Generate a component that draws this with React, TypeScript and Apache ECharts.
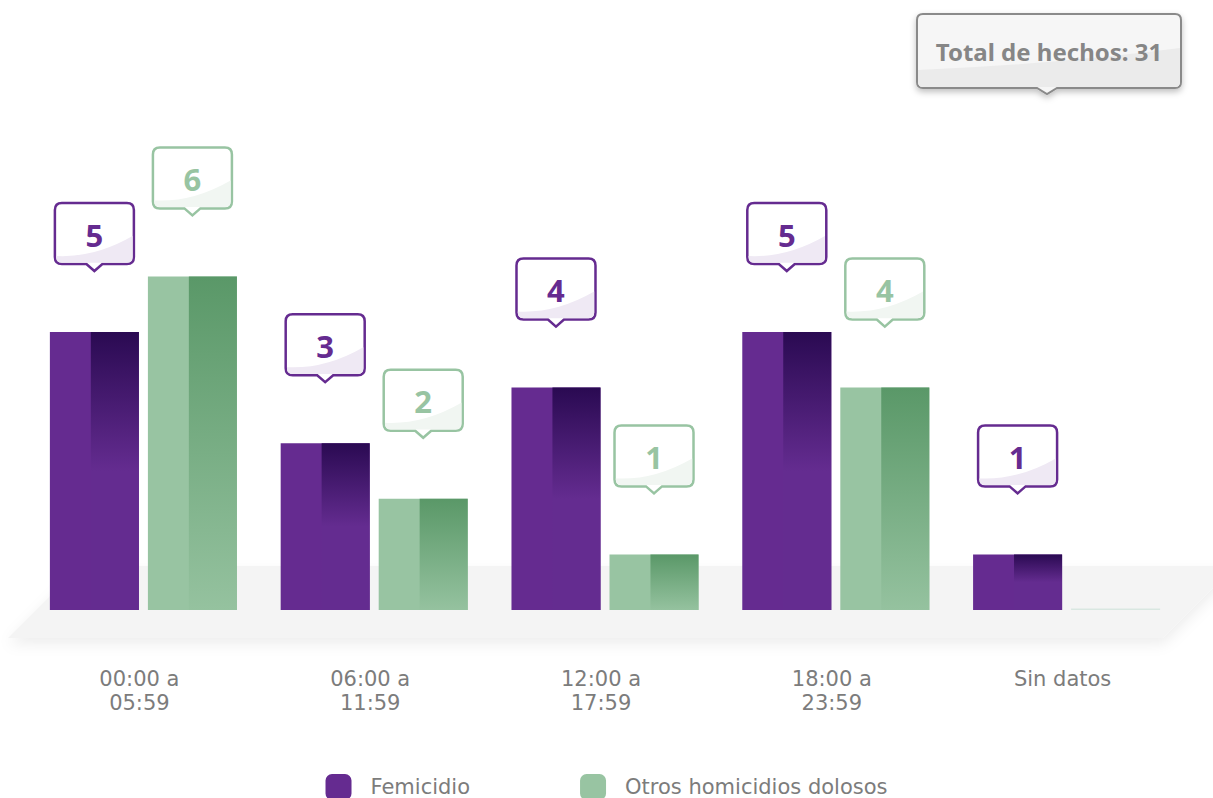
import React, { useEffect, useRef } from "react";
import * as echarts from "echarts";

const categories = ["00:00 a\n05:59", "06:00 a\n11:59", "12:00 a\n17:59", "18:00 a\n23:59", "Sin datos"];
const femicidio = [5, 3, 4, 5, 1];
const otros = [6, 2, 1, 4, 0];
const seriesNames = ["Femicidio", "Otros homicidios dolosos"];

const PURPLE = { base: "#652b90", dark: "#2a0a52", mid: "#642c90", tint: "#efe9f4", stroke: "#652b90", text: "#652b90", zero: "#e0d6ea" };
const GREEN = { base: "#98c4a2", dark: "#5a9868", mid: "#95c29f", tint: "#f1f6f2", stroke: "#98c4a2", text: "#98c4a2", zero: "#d9e7e1" };

const FONT = '"Noto Sans", "Open Sans", sans-serif';
const LIGHT = '"DejaVu Sans", "Noto Sans", sans-serif';

const totalPath =
  "M6,0 H258 Q264,0 264,6 V68 Q264,74 258,74 H140 L130,80 L120,74 H6 Q0,74 0,68 V6 Q0,0 6,0 Z";
const totalGloss =
  "M1,56 Q140,50 263,34 V68 Q263,73 258,73 H6 Q1,73 1,68 Z";
echarts.graphic.registerShape("totalBox", echarts.graphic.extendPath(totalPath, {}));
echarts.graphic.registerShape("totalGloss", echarts.graphic.extendPath(totalGloss, {}));

function makeRender(side: number, pal: any) {
  return (params: any, api: any) => {
    const cat = api.value(0);
    const val = api.value(1);
    const [cx, yTop] = api.coord([cat, val]);
    const [, yBase] = api.coord([cat, 0]);
    const band = api.size([1, 0])[0];
    const bw = band * 0.3857;
    const gap = band * 0.039;
    const groupLeft = cx - (2 * bw + gap) / 2;
    const left = side === 0 ? groupLeft : groupLeft + bw + gap;
    const children: any[] = [];
    if (val <= 0) {
      children.push({ type: "rect", shape: { x: left, y: yBase - 1.5, width: bw, height: 1.5 }, style: { fill: pal.zero } });
      return { type: "group", children };
    }
    const h = yBase - yTop;
    const split = bw * 0.46;
    children.push({ type: "rect", shape: { x: left, y: yTop, width: bw, height: h }, style: { fill: pal.base } });
    children.push({
      type: "rect",
      shape: { x: left + split, y: yTop, width: bw - split, height: h },
      style: {
        fill: new echarts.graphic.LinearGradient(0, 0, 0, 1,
          side === 0
            ? [{ offset: 0, color: pal.dark }, { offset: 0.5, color: pal.mid }, { offset: 1, color: pal.mid }]
            : [{ offset: 0, color: pal.dark }, { offset: 1, color: pal.mid }]),
      },
    });
    // callout
    const W = 79, H = 61, r = 7, pw = 8, pd = 7;
    const bc = left + bw / 2;
    const tipY = yTop - 61;
    const bottom = tipY - pd;
    const top = bottom - H;
    const l = bc - W / 2;
    const R = l + W;
    const d = `M${l + r},${top} L${R - r},${top} Q${R},${top} ${R},${top + r} L${R},${bottom - r} Q${R},${bottom} ${R - r},${bottom} L${bc + pw},${bottom} L${bc},${tipY} L${bc - pw},${bottom} L${l + r},${bottom} Q${l},${bottom} ${l},${bottom - r} L${l},${top + r} Q${l},${top} ${l + r},${top} Z`;
    const i = 1.3;
    const g = `M${l + i},${bottom - 8} Q${l + W / 2},${bottom - 6} ${R - i},${bottom - 28} L${R - i},${bottom - r} Q${R - i},${bottom - i} ${R - r},${bottom - i} L${l + r},${bottom - i} Q${l + i},${bottom - i} ${l + i},${bottom - r} Z`;
    children.push({ type: "path", shape: { pathData: d }, style: { fill: "#ffffff", stroke: pal.stroke, lineWidth: 2.5 } });
    children.push({ type: "path", shape: { pathData: g }, style: { fill: pal.tint } });
    children.push({
      type: "text",
      style: {
        text: String(val), x: bc, y: top + H / 2 + 1, align: "center", verticalAlign: "middle",
        fill: pal.text, fontSize: 31, fontWeight: "bold", fontFamily: FONT,
      },
    });
    return { type: "group", children };
  };
}

export default function App() {
  const ref = useRef<HTMLDivElement>(null);
  useEffect(() => {
    if (!ref.current) return;
    const chart = echarts.init(ref.current, undefined, { renderer: "svg" });
    const total = femicidio.reduce((a, b) => a + b, 0) + otros.reduce((a, b) => a + b, 0);
    chart.setOption({
      animation: false,
      backgroundColor: "#ffffff",
      grid: { left: 28, top: 54, width: 1154, height: 556 },
      xAxis: {
        type: "category",
        data: categories,
        axisLine: { show: false },
        axisTick: { show: false },
        axisLabel: {
          margin: 57, fontSize: 21, lineHeight: 24, color: "#7c7c7c", fontFamily: LIGHT,
          padding: [0, 8, 0, 0],
        },
      },
      yAxis: { type: "value", min: 0, max: 10, show: false, splitLine: { show: false } },
      legend: {
        data: seriesNames,
        left: "center",
        top: 774,
        padding: 0,
        icon: "roundRect",
        itemWidth: 26,
        itemHeight: 26,
        itemGap: 110,
        textStyle: { fontSize: 21, color: "#7c7c7c", fontFamily: LIGHT, padding: [0, 0, 0, 14] },
      },
      graphic: [
        {
          type: "polygon",
          z: -10,
          shape: { points: [[80, 566], [1235, 566], [1163, 638], [8, 638]] },
          style: { fill: "#f4f4f4", shadowBlur: 14, shadowColor: "rgba(0,0,0,0.07)", shadowOffsetY: 6 },
        },
        {
          type: "group",
          x: 917,
          y: 14,
          children: [
            {
              type: "totalBox",
              style: { fill: "#f6f6f6", stroke: "#8a8a8a", lineWidth: 2, shadowBlur: 6, shadowColor: "rgba(0,0,0,0.25)", shadowOffsetY: 3 },
            },
            { type: "totalGloss", style: { fill: "#ebebeb" } },
            {
              type: "text",
              x: 132,
              y: 37,
              style: {
                text: `Total de hechos: ${total}`, align: "center", verticalAlign: "middle",
                fill: "#868686", fontSize: 24, fontWeight: "bold", fontFamily: FONT,
              },
            },
          ],
        },
      ],
      series: [
        {
          name: seriesNames[0], type: "custom", itemStyle: { color: PURPLE.base }, silent: true,
          renderItem: makeRender(0, PURPLE), data: femicidio.map((v, i) => [i, v]), encode: { x: 0, y: 1 },
        },
        {
          name: seriesNames[1], type: "custom", itemStyle: { color: GREEN.base }, silent: true,
          renderItem: makeRender(1, GREEN), data: otros.map((v, i) => [i, v]), encode: { x: 0, y: 1 },
        },
      ],
    });
    return () => chart.dispose();
  }, []);
  return <div ref={ref} style={{ width: 1213, height: 798, position: "absolute", left: 0, top: 0 }} />;
}
